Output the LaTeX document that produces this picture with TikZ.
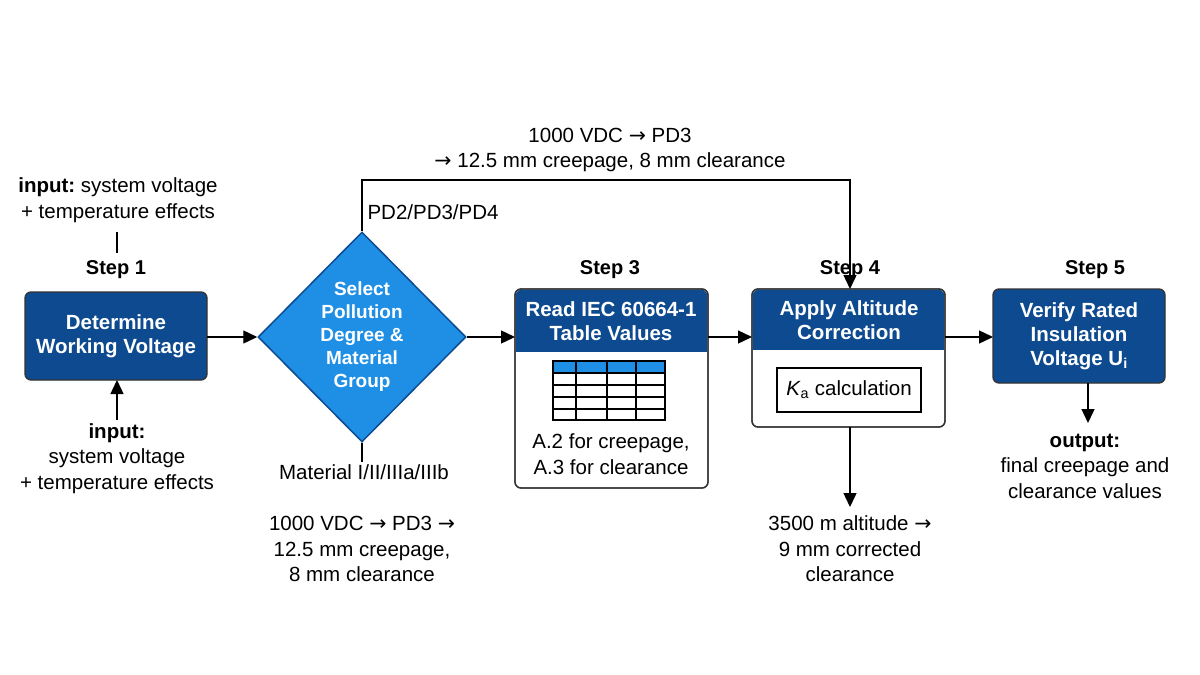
\documentclass[tikz,border=0pt]{standalone}
\usepackage{fontspec}
\setmainfont{Liberation Sans}
\newfontfamily\arr{DejaVu Sans}
\newcommand{\ra}{{\arr →}}
\usetikzlibrary{arrows.meta,shapes.geometric}
\definecolor{dblue}{HTML}{0D4A8F}
\definecolor{lblue}{HTML}{1F8FE6}
\begin{document}
\begin{tikzpicture}[x=1pt,y=-1pt,
  box/.style={draw=black!80,line width=1.3pt,fill=dblue,rounded corners=6pt},
  wt/.style={text=white,font=\fontsize{20.5}{24}\selectfont\bfseries,align=center},
  lbl/.style={font=\fontsize{20.5}{25.5}\selectfont,align=center},
  stp/.style={font=\fontsize{20}{23}\selectfont\bfseries},
  ln/.style={line width=1.4pt},
  ar/.style={line width=1.4pt,-{Triangle[length=14pt,width=13pt]}}]
\useasboundingbox (0,0) rectangle (1200,675);
% Step 1
\node[stp] (s1) at (116,270) {Step 1};
\draw[box] (25,292) rectangle (207,380);
\node[wt] (b1) at (116,336) {Determine\\Working Voltage};
\coordinate (b1e) at (207,337);
\node[lbl,anchor=south] (in1) at (118,226) {\textbf{input:}\hspace{-2pt} system voltage\\+ temperature effects};
\coordinate (l1a) at (117,232); \coordinate (l1b) at (117,253);
\draw[ln] (l1a) -- (l1b);
\node[lbl,anchor=north] (in2) at (117,420) {\textbf{input:}\\system voltage\\+ temperature effects};
\coordinate (b1s) at (117,380);
\draw[ar] (in2.north) -- (b1s);
% Diamond
\node[diamond,draw=dblue,line width=1.5pt,fill=lblue,minimum width=208pt,minimum height=210pt,inner sep=0pt,aspect=1] (d) at (362,337) {};
\node[wt,font=\fontsize{19}{23}\selectfont\bfseries] at (362,337) {Select\\Pollution\\Degree \&\\Material\\Group};
\draw[ar] (b1e) -- (d.west);
\coordinate (dtop) at (362,180); \coordinate (tr) at (850,180);
\node[lbl,anchor=west] (pd) at (364,212) {PD2/PD3/PD4};
\node[lbl] (topl) at (610,150) {1000 VDC \ra{} PD3\\\ra{} 12.5 mm creepage, 8 mm clearance};
\coordinate (dbot) at (362,462);
\draw[ln] (d.south) -- (dbot);
\node[lbl] (mat) at (364,472) {Material I/II/IIIa/IIIb};
\node[lbl] (res2) at (362,549) {1000 VDC \ra{} PD3 \ra\\12.5 mm creepage,\\8 mm clearance};
% Step 3
\node[stp] (s3) at (610,270) {Step 3};
\draw[line width=1.3pt,draw=black!80,fill=white,rounded corners=6pt] (515,289) rectangle (708,488);
\fill[dblue,rounded corners=6pt] (515.7,289.7) rectangle (707.3,340);
\fill[dblue] (515.7,320) rectangle (707.3,352);
\draw[line width=1.3pt,black!80,rounded corners=6pt] (515,289) rectangle (708,488);
\node[wt] (b3) at (611,321) {Read IEC 60664-1\\Table Values};
\coordinate (b3w) at (515,337); \coordinate (b3e) at (708,337);
\fill[lblue] (553,361) rectangle (665,373);
\draw[line width=1.2pt] (553,361) rectangle (665,420);
\foreach \y in {373,385,397,409} \draw[line width=1.2pt] (553,\y) -- (665,\y);
\foreach \x in {576,607,636} \draw[line width=1.2pt] (\x,361) -- (\x,420);
\node[lbl] (t3) at (611,454) {A.2 for creepage,\\A.3 for clearance};
\draw[ar] (d.east) -- (b3w);
% Step 4
\node[stp] (s4) at (850,270) {Step 4};
\draw[line width=1.3pt,draw=black!80,fill=white,rounded corners=6pt] (752,289) rectangle (945,427);
\fill[dblue,rounded corners=6pt] (752.7,289.7) rectangle (944.3,340);
\fill[dblue] (752.7,320) rectangle (944.3,350);
\draw[line width=1.3pt,black!80,rounded corners=6pt] (752,289) rectangle (945,427);
\node[wt] (b4) at (849,320) {Apply Altitude\\Correction};
\coordinate (b4w) at (752,337); \coordinate (b4e) at (945,337);
\coordinate (b4n) at (850,289); \coordinate (b4s) at (850,427);
\draw[line width=1.4pt] (777,368) rectangle (921,412);
\node[lbl] (ka) at (849,390) {\textit{K}\textsubscript{a} calculation};
\draw[ar] (b3e) -- (b4w);
\draw[ar] (d.north) -- (dtop) -- (tr) -- (b4n);
\coordinate (b4d) at (850,507);
\draw[ar] (b4s) -- (b4d);
\node[lbl] (alt) at (850,549) {3500 m altitude \ra\\9 mm corrected\\clearance};
% Step 5
\node[stp] (s5) at (1095,270) {Step 5};
\draw[box] (993,289) rectangle (1165,383);
\node[wt] (b5) at (1079,336) {Verify Rated\\Insulation\\Voltage U\textsubscript{i}};
\coordinate (b5w) at (993,337);
\draw[ar] (b4e) -- (b5w);
\coordinate (b5s) at (1088,383); \coordinate (b5d) at (1088,423);
\draw[ar] (b5s) -- (b5d);
\node[lbl] (out) at (1085,466) {\textbf{output:}\\final creepage and\\clearance values};
\end{tikzpicture}
\end{document}
